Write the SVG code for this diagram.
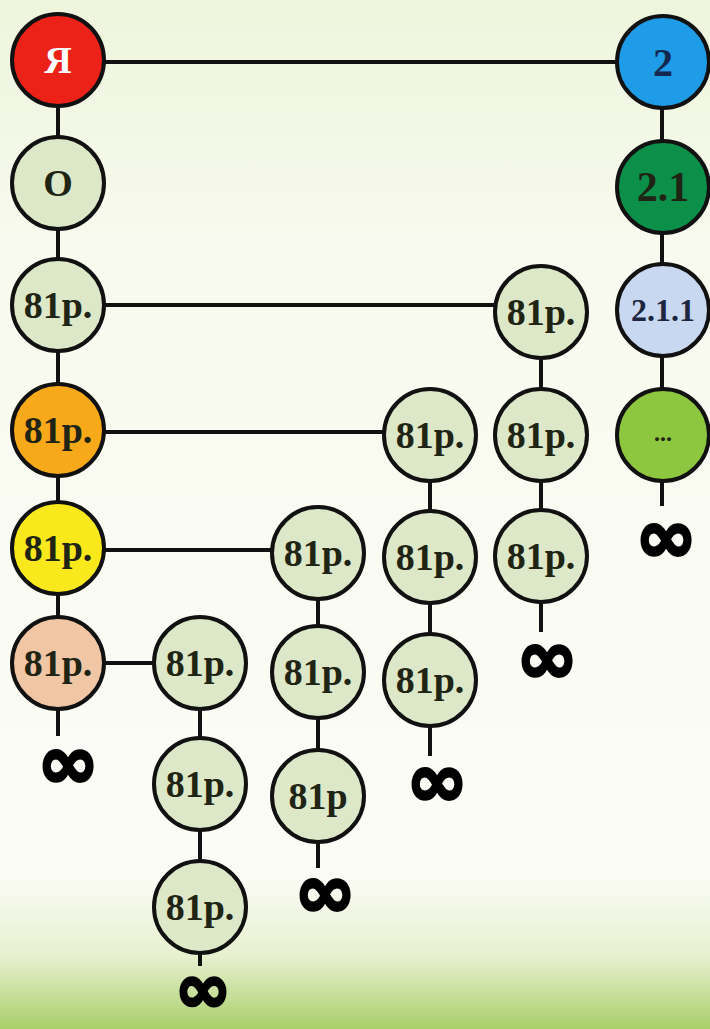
<svg xmlns="http://www.w3.org/2000/svg" width="710" height="1029" viewBox="0 0 710 1029">
<defs>
<linearGradient id="bg" x1="0" y1="0" x2="0" y2="1">
<stop offset="0" stop-color="#eef5dc"/>
<stop offset="0.25" stop-color="#f8faef"/>
<stop offset="0.85" stop-color="#fbfcf6"/>
<stop offset="0.93" stop-color="#e6f0cf"/>
<stop offset="1" stop-color="#a9cf6a"/>
</linearGradient>
<style>
.n{stroke:#111;stroke-width:4}
.c{stroke:#111;stroke-width:4;fill:none}
.t{font-family:"Liberation Serif","DejaVu Serif",serif;font-weight:bold;font-size:38px;fill:#1f2414;text-anchor:middle;dominant-baseline:central}
.inf{font-family:"DejaVu Sans","Liberation Sans",sans-serif;font-weight:bold;font-size:74px;fill:#000;stroke:#000;stroke-width:3;text-anchor:middle;dominant-baseline:central}
.lg{fill:#dce8c8}
</style>
</defs>
<rect width="710" height="1029" fill="url(#bg)"/>
<g id="connectors">
<line class="c" x1="58" y1="62" x2="662" y2="62"/>
<line class="c" x1="58" y1="62" x2="58" y2="663"/>
<line class="c" x1="58" y1="663" x2="58" y2="736"/>
<line class="c" x1="662" y1="62" x2="662" y2="506"/>
<line class="c" x1="58" y1="305" x2="541" y2="305"/>
<line class="c" x1="541" y1="310" x2="541" y2="632"/>
<line class="c" x1="58" y1="432" x2="430" y2="432"/>
<line class="c" x1="430" y1="435" x2="430" y2="756"/>
<line class="c" x1="58" y1="550" x2="318" y2="550"/>
<line class="c" x1="318" y1="553" x2="318" y2="868"/>
<line class="c" x1="58" y1="663" x2="200" y2="663"/>
<line class="c" x1="200" y1="663" x2="200" y2="966"/>
</g>
<g id="n-ya"><circle class="n" cx="58" cy="60" r="46" fill="#ec2218"/><text class="t" x="58" y="60" style="fill:#fff">Я</text></g>
<g id="n-o"><circle class="n lg" cx="58" cy="183" r="46"/><text class="t" x="58" y="183">О</text></g>
<g id="n-c1r3"><circle class="n lg" cx="58" cy="305" r="46"/><text class="t" x="58" y="305">81р.</text></g>
<g id="n-c1r4"><circle class="n" cx="58" cy="430" r="46" fill="#f8a91a"/><text class="t" x="58" y="430">81р.</text></g>
<g id="n-c1r5"><circle class="n" cx="58" cy="548" r="46" fill="#f8e81c"/><text class="t" x="58" y="548">81р.</text></g>
<g id="n-c1r6"><circle class="n" cx="58" cy="663" r="46" fill="#f1c6a4"/><text class="t" x="58" y="663">81р.</text></g>
<g id="inf-c1"><text class="inf" x="68" y="762">∞</text></g>

<g id="n-2"><circle class="n" cx="663" cy="62" r="46" fill="#1f9ce8"/><text class="t" x="663" y="62" style="fill:#14284f;font-size:40px">2</text></g>
<g id="n-2-1"><circle class="n" cx="663" cy="187" r="46" fill="#0c8f49"/><text class="t" x="663" y="187" style="font-size:42px">2.1</text></g>
<g id="n-2-1-1"><circle class="n" cx="663" cy="310" r="46" fill="#c8d8f0"/><text class="t" x="663" y="310" style="font-size:32px;fill:#1c2640">2.1.1</text></g>
<g id="n-dots"><circle class="n" cx="663" cy="435" r="46" fill="#8dc63f"/><text class="t" x="663" y="433" style="font-size:24px">...</text></g>
<g id="inf-c7"><text class="inf" x="666" y="536">∞</text></g>

<g id="n-c3r1"><circle class="n lg" cx="541" cy="312" r="46"/><text class="t" x="541" y="312">81р.</text></g>
<g id="n-c3r2"><circle class="n lg" cx="541" cy="435" r="46"/><text class="t" x="541" y="435">81р.</text></g>
<g id="n-c3r3"><circle class="n lg" cx="541" cy="556" r="46"/><text class="t" x="541" y="556">81р.</text></g>
<g id="inf-c3"><text class="inf" x="547" y="657">∞</text></g>

<g id="n-c4r1"><circle class="n lg" cx="430" cy="435" r="46"/><text class="t" x="430" y="435">81р.</text></g>
<g id="n-c4r2"><circle class="n lg" cx="430" cy="557" r="46"/><text class="t" x="430" y="557">81р.</text></g>
<g id="n-c4r3"><circle class="n lg" cx="430" cy="680" r="46"/><text class="t" x="430" y="680">81р.</text></g>
<g id="inf-c4"><text class="inf" x="437" y="780">∞</text></g>

<g id="n-c5r1"><circle class="n lg" cx="318" cy="553" r="46"/><text class="t" x="318" y="553">81р.</text></g>
<g id="n-c5r2"><circle class="n lg" cx="318" cy="672" r="46"/><text class="t" x="318" y="672">81р.</text></g>
<g id="n-c5r3"><circle class="n lg" cx="318" cy="796" r="46"/><text class="t" x="318" y="796">81р</text></g>
<g id="inf-c5"><text class="inf" x="325" y="891">∞</text></g>

<g id="n-c6r1"><circle class="n lg" cx="200" cy="663" r="46"/><text class="t" x="200" y="663">81р.</text></g>
<g id="n-c6r2"><circle class="n lg" cx="200" cy="784" r="46"/><text class="t" x="200" y="784">81р.</text></g>
<g id="n-c6r3"><circle class="n lg" cx="200" cy="907" r="46"/><text class="t" x="200" y="907">81р.</text></g>
<g id="inf-c6"><text class="inf" x="203" y="988" style="font-size:68px">∞</text></g>
</svg>
